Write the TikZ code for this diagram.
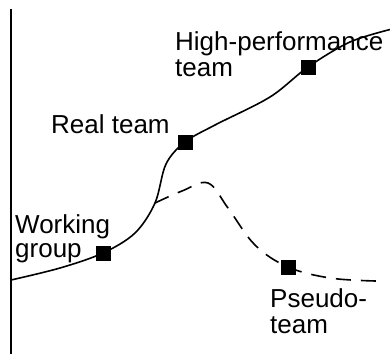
\documentclass[tikz,border=0pt]{standalone}
\usepackage{fontspec}
\setmainfont{Liberation Sans}
\begin{document}
\begin{tikzpicture}[x=1pt,y=-1pt,
  sq/.style={fill=black,draw=none,minimum size=15pt,inner sep=0pt},
  lbl/.style={inner sep=0pt,anchor=base west,align=left,font=\fontsize{26}{26}\selectfont},
  curve/.style={line width=1.6pt},
  dcurve/.style={line width=1.6pt,dash pattern=on 15pt off 10pt}]
\useasboundingbox (0,0) rectangle (390,354);
% axis
\coordinate (axT) at (11,9);
\coordinate (axB) at (11,354);
\draw[line width=2pt] (axT) -- (axB);
% key points
\coordinate (pS) at (11,280);
\coordinate (pWG) at (103,253);
\coordinate (pBr) at (155,203);
\coordinate (pRT) at (185,142);
\coordinate (pHP) at (308,67);
\coordinate (pE) at (392,29);
\coordinate (pPS) at (288,267);
\coordinate (pDE) at (376,281);
% solid curve
\draw[curve] plot[smooth,tension=0.55] coordinates {(pS) (60,268) (pWG) (135,233) (pBr) (166,164) (pRT) (215,125) (270,97) (pHP) (350,42) (pE)};
% dashed branch
\draw[dcurve] plot[smooth,tension=0.6] coordinates {(pBr) (182,191) (208,183) (228,208) (255,245) (pPS) (330,278) (pDE)};
% squares
\node[sq] (wg) at (pWG) {};
\node[sq] (rt) at (pRT) {};
\node[sq] (hp) at (pHP) {};
\node[sq] (ps) at (pPS) {};
% labels
\node[lbl] (lhp) at (175,76) {High-performance\\team};
\node[lbl] (lrt) at (51,133) {Real team};
\node[lbl,font=\fontsize{26}{24}\selectfont] (lwg) at (15,257) {Working\\group};
\node[lbl] (lps) at (270,333) {Pseudo-\\team};
\end{tikzpicture}
\end{document}
